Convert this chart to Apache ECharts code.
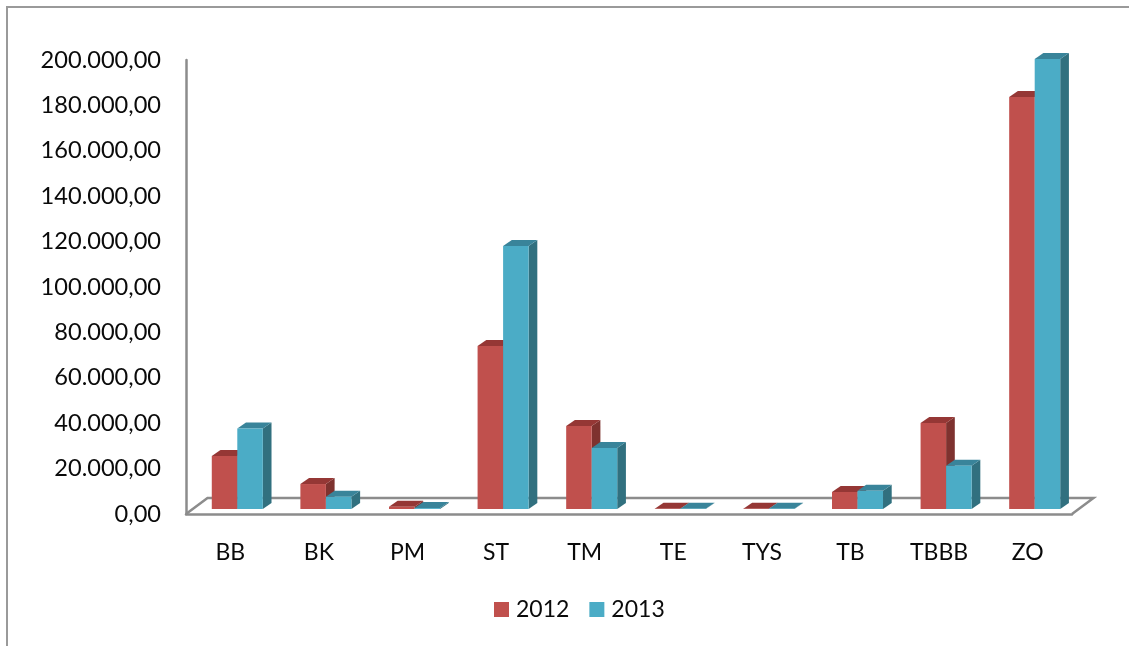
<!DOCTYPE html>
<html>
<head>
<meta charset="utf-8">
<style>html,body{margin:0;padding:0;background:#fff}#chart{width:1129px;height:646px}</style>
<script src="https://cdn.jsdelivr.net/npm/echarts@6/dist/echarts.min.js"></script>
</head>
<body>
<div id="chart"></div>
<script>
const categories = ['BB','BK','PM','ST','TM','TE','TYS','TB','TBBB','ZO'];
const values2012 = [23300,11000,1000,71800,36600,150,150,7500,37900,181500];
const values2013 = [35500,5400,400,115900,26900,150,150,8000,19000,198200];
const yTickLabels = ['0,00','20.000,00','40.000,00','60.000,00','80.000,00','100.000,00','120.000,00','140.000,00','160.000,00','180.000,00','200.000,00'];

const FONT = 'Lato';
const AXIS = '#8c8c8c';
const INK = '#0a0a0a';
const barRatio = 0.288, shiftX = 7, shiftY = -5, depthX = 8.7, depthY = 6;
const floorDX = 21.5, floorDY = 16;

function barRenderer(side, front, top, flank) {
  return function (params, api) {
    const base = api.coord([api.value(0), 0]);
    const head = api.coord([api.value(0), api.value(1)]);
    const w = api.size([1, 0])[0] * barRatio;
    const x0 = base[0] + shiftX + (side < 0 ? -w : 0);
    const x1 = x0 + w;
    const yb = base[1] + shiftY;
    const yt = head[1] + shiftY;
    return {
      type: 'group',
      children: [
        { type: 'polygon', shape: { points: [[x1, yb], [x1 + depthX, yb - depthY], [x1 + depthX, yt - depthY], [x1, yt]] }, style: { fill: flank } },
        { type: 'polygon', shape: { points: [[x0, yt], [x0 + depthX, yt - depthY], [x1 + depthX, yt - depthY], [x1, yt]] }, style: { fill: top } },
        { type: 'rect', shape: { x: x0, y: yt, width: w, height: yb - yt }, style: { fill: front } }
      ]
    };
  };
}

function floorRenderer(params, api) {
  const a = api.coord([0, 0]);
  const bw = api.size([1, 0])[0];
  const left = a[0] - bw / 2, right = left + bw * categories.length, y = a[1];
  const st = { stroke: AXIS, lineWidth: 2.5, fill: null };
  return {
    type: 'group',
    children: [
      { type: 'polyline', shape: { points: [[left, y], [left + floorDX, y - floorDY], [right + floorDX, y - floorDY], [right, y]] }, style: st }
    ]
  };
}

const chart = echarts.init(document.getElementById('chart'), null, { renderer: 'canvas' });
chart.setOption({
  animation: false,
  backgroundColor: '#fff',
  textStyle: { fontFamily: FONT },
  graphic: [{
    type: 'polyline', silent: true, z: 0,
    shape: { points: [[7, 646], [7, 7], [1129, 7]] },
    style: { stroke: '#9a9a9a', lineWidth: 2, fill: null }
  }],
  legend: {
    data: [{ name: '2012', icon: 'rect' }, { name: '2013', icon: 'rect' }],
    left: 494, top: 598, itemWidth: 15, itemHeight: 15, itemGap: 20,
    padding: 0,
    textStyle: { fontFamily: FONT, fontSize: 23, color: INK, padding: [0, 0, 0, 2] }
  },
  grid: { left: 186, top: 60, width: 886, height: 454, containLabel: false },
  xAxis: {
    type: 'category', data: categories,
    axisLine: { show: true, lineStyle: { color: AXIS, width: 2.5 } },
    axisTick: { show: false },
    axisLabel: { fontFamily: FONT, fontSize: 23, color: INK, margin: 27, interval: 0 }
  },
  yAxis: {
    type: 'value', min: 0, max: 200000, interval: 20000,
    axisLine: { show: true, lineStyle: { color: AXIS, width: 2.5 } },
    axisTick: { show: false },
    splitLine: { show: false },
    axisLabel: {
      fontFamily: FONT, fontSize: 23.6, color: INK, margin: 25, padding: [3, 0, 0, 0],
      formatter: v => yTickLabels[Math.round(v / 20000)]
    }
  },
  series: [
    { type: 'custom', name: 'floor', silent: true, z: 1, data: [[0, 0]], encode: { x: 0, y: 1 }, renderItem: floorRenderer },
    { type: 'custom', name: '2012', z: 2, itemStyle: { color: '#C0504D' },
      data: values2012.map((v, i) => [i, v]), encode: { x: 0, y: 1 },
      renderItem: barRenderer(-1, '#C0504D', '#953735', '#7E322F') },
    { type: 'custom', name: '2013', z: 3, itemStyle: { color: '#4BACC6' },
      data: values2013.map((v, i) => [i, v]), encode: { x: 0, y: 1 },
      renderItem: barRenderer(1, '#4BACC6', '#39849A', '#31707F') }
  ]
});
</script>
</body>
</html>
